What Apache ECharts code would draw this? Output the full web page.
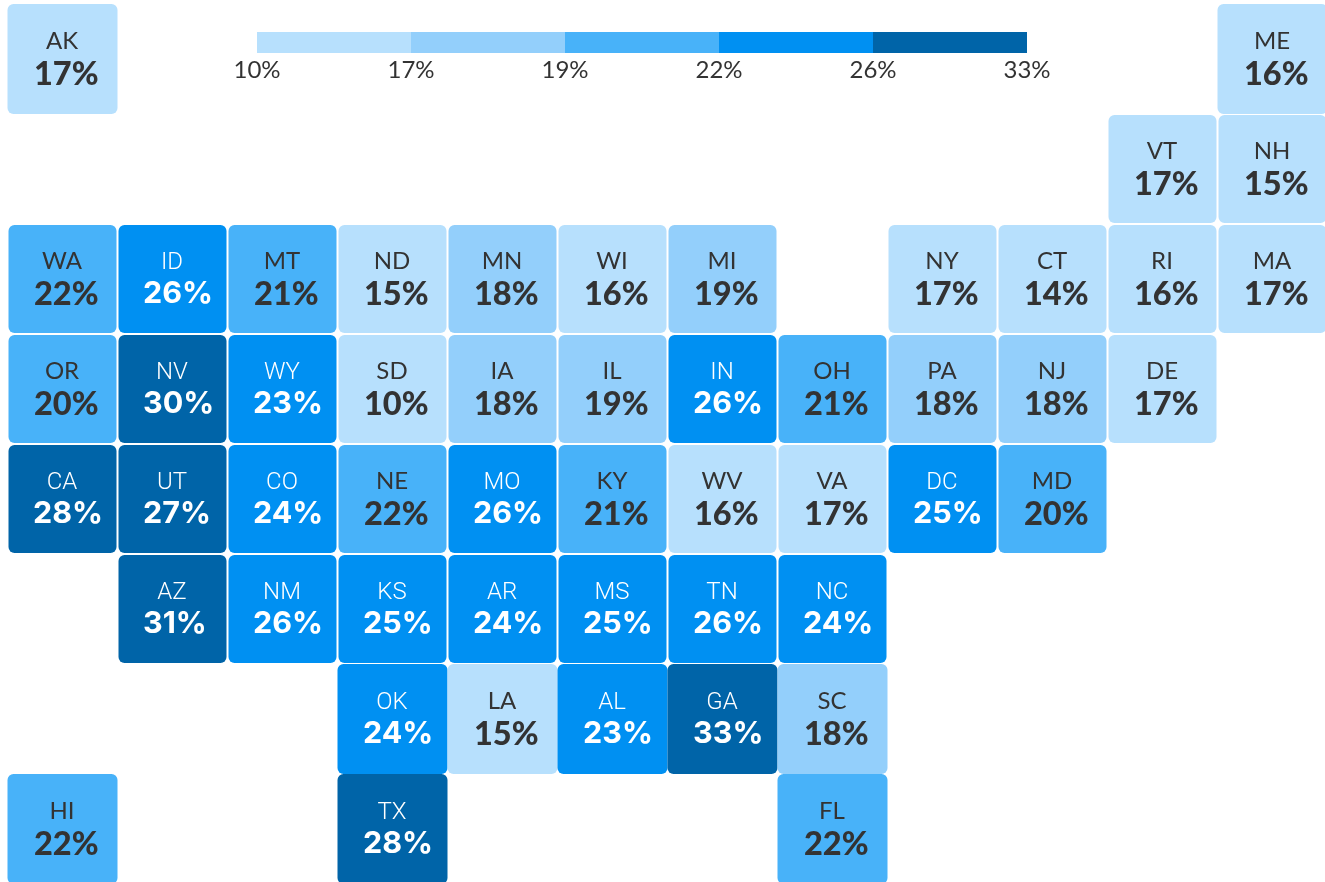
<!DOCTYPE html>
<html>
<head>
<meta charset="utf-8">
<title>State tile map</title>
<script src="https://cdn.jsdelivr.net/npm/echarts@6/dist/echarts.min.js"></script>
<style>
  html, body { margin: 0; padding: 0; background: #fff; overflow: hidden; }
  #chart { width: 1325px; height: 882px; }
</style>
</head>
<body>
<div id="chart"></div>
<script>
const states = ['AK','ME','VT','NH',
  'WA','ID','MT','ND','MN','WI','MI','NY','CT','RI','MA',
  'OR','NV','WY','SD','IA','IL','IN','OH','PA','NJ','DE',
  'CA','UT','CO','NE','MO','KY','WV','VA','DC','MD',
  'AZ','NM','KS','AR','MS','TN','NC',
  'OK','LA','AL','GA','SC',
  'HI','TX','FL'];
const cols = [0,11,10,11,
  0,1,2,3,4,5,6,8,9,10,11,
  0,1,2,3,4,5,6,7,8,9,10,
  0,1,2,3,4,5,6,7,8,9,
  1,2,3,4,5,6,7,
  3,4,5,6,7,
  0,3,7];
const rows = [0,0,1,1,
  2,2,2,2,2,2,2,2,2,2,2,
  3,3,3,3,3,3,3,3,3,3,3,
  4,4,4,4,4,4,4,4,4,4,
  5,5,5,5,5,5,5,
  6,6,6,6,6,
  7,7,7];
const values = [17,16,17,15,
  22,26,21,15,18,16,19,17,14,16,17,
  20,30,23,10,18,19,26,21,18,18,17,
  28,27,24,22,26,21,16,17,25,20,
  31,26,25,24,25,26,24,
  24,15,23,33,18,
  22,28,22];

const legendLabels = ['10%','17%','19%','22%','26%','33%'];
const palette = ['#b7e0fd','#93cffb','#48b2f9','#0090f2','#0064a8'];
// rounded labels hide the real cut points, these put each state in the bucket it is drawn in
const colorBreaks = [18, 20, 23, 27];
const flushRows = [0, 6, 7];

const bucket = v => {
  let i = 0;
  while (i < colorBreaks.length && v >= colorBreaks[i]) i++;
  return i;
};

const chart = echarts.init(document.getElementById('chart'));

const renderCell = (params, api) => {
  const col = api.value(0);
  const row = api.value(1);
  const value = api.value(2);
  const [x, y] = api.coord([col, row]);
  const [w, h] = api.size([1, 1]);
  const inset = flushRows.includes(row) ? 0 : 1;
  const b = bucket(value);
  const light = b >= 3;
  return {
    type: 'group',
    children: [
      {
        type: 'rect',
        shape: { x: x + inset, y: y + inset, width: w - inset * 2, height: h - inset * 2, r: 6 },
        style: { fill: palette[b] }
      },
      {
        type: 'text',
        style: {
          x: x + w / 2 - 0.5, y: y + (light ? 38.5 : 37.5),
          text: states[params.dataIndex],
          fill: light ? '#fff' : '#333',
          font: light ? '300 24px Roboto' : '400 24px Lato',
          textAlign: 'center', textVerticalAlign: 'middle'
        }
      },
      {
        type: 'text',
        style: {
          x: x + (light ? 25.5 : 26.5), y: y + (light ? 70 : 70.5),
          text: value + '%',
          fill: light ? '#fff' : '#333',
          font: light ? '700 30.5px Inter' : '900 32.5px Lato',
          textAlign: 'left', textVerticalAlign: 'middle'
        }
      }
    ]
  };
};

const renderLegend = (params, api) => {
  const start = api.coord([api.value(0), 0]);
  const end = api.coord([api.value(1), 0]);
  const height = api.size([0, 1])[1];
  return {
    type: 'rect',
    shape: { x: start[0], y: start[1] - height / 2, width: end[0] - start[0], height: height },
    style: { fill: palette[params.dataIndex] }
  };
};

chart.setOption({
  animation: false,
  backgroundColor: '#fff',
  grid: [
    { left: 7.5, top: 4, width: 1320, height: 880, outerBoundsMode: 'none' },
    { left: 257, top: 32, width: 770, height: 21, outerBoundsMode: 'none' }
  ],
  xAxis: [
    { type: 'value', gridIndex: 0, min: 0, max: 12, show: false },
    {
      type: 'category', gridIndex: 1, data: legendLabels, boundaryGap: false,
      axisLine: { show: false }, axisTick: { show: false },
      axisLabel: { interval: 0, margin: 5, fontFamily: 'Lato', fontWeight: 400, fontSize: 24, color: '#333' }
    }
  ],
  yAxis: [
    { type: 'value', gridIndex: 0, min: 0, max: 8, inverse: true, show: false },
    { type: 'category', gridIndex: 1, data: ['share'], show: false }
  ],
  series: [
    {
      type: 'custom',
      xAxisIndex: 0, yAxisIndex: 0,
      clip: false,
      renderItem: renderCell,
      encode: { x: 0, y: 1 },
      data: states.map((s, i) => [cols[i], rows[i], values[i]])
    },
    {
      type: 'custom',
      xAxisIndex: 1, yAxisIndex: 1,
      renderItem: renderLegend,
      encode: { x: [0, 1], y: 2 },
      data: palette.map((c, i) => [i, i + 1, 0])
    }
  ]
});

window.addEventListener('resize', () => chart.resize());
</script>
</body>
</html>
